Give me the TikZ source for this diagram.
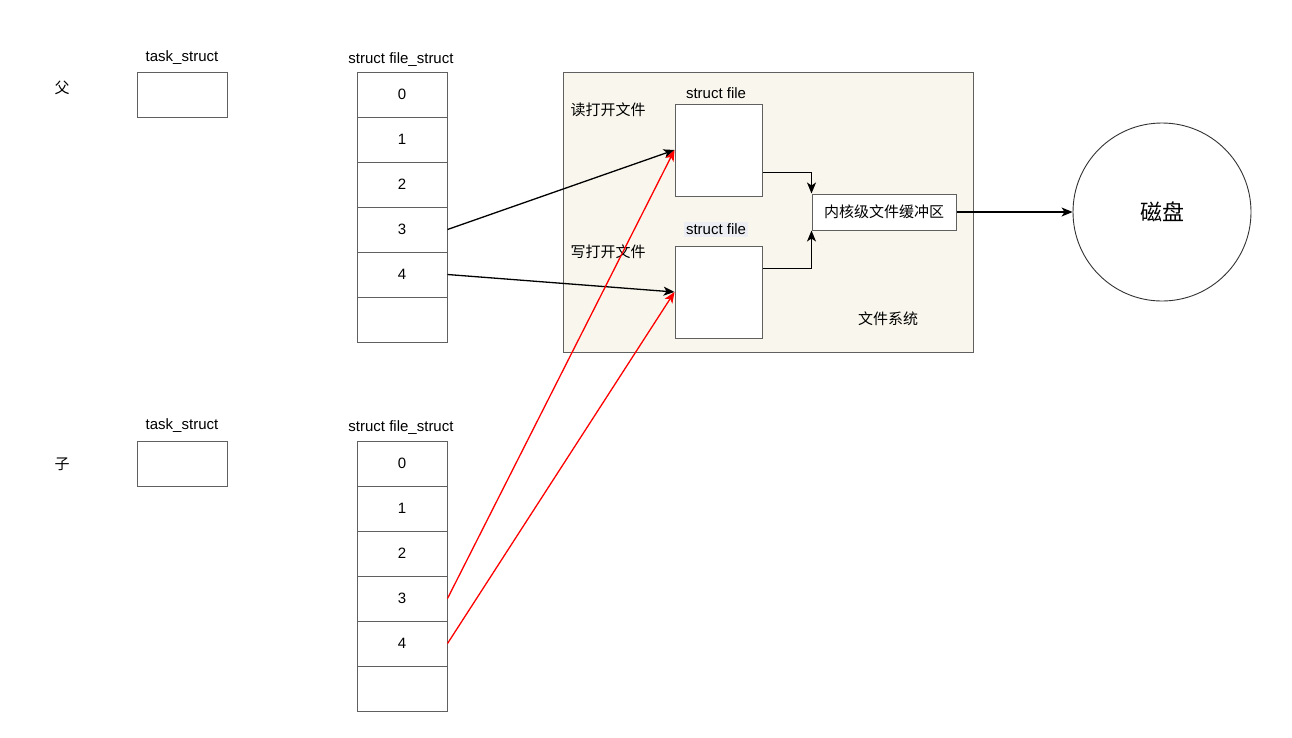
\documentclass[tikz,border=0pt]{standalone}
\usepackage{fontspec}
\setmainfont{Liberation Sans}
\newfontfamily\cjk{Noto Sans CJK SC}
\usetikzlibrary{arrows.meta,calc}
\definecolor{fsfill}{HTML}{F9F7ED}
\definecolor{boxline}{HTML}{606060}
\definecolor{hl}{HTML}{ECEEF3}
\begin{document}
\begin{tikzpicture}[x=1pt,y=-1pt,
  every node/.style={font=\fontsize{15}{18}\selectfont, inner sep=0pt},
  box/.style={draw=boxline, line width=1pt, fill=white},
  cell/.style={box, minimum width=90pt, minimum height=45pt},
  cjklbl/.style={font=\cjk\fontsize{15}{18}\selectfont},
  arr/.style={-{Stealth[length=11pt,width=9pt,inset=3pt]}, line width=1.3pt},
  redarr/.style={arr, draw=red}
]
\useasboundingbox (0,0) rectangle (1292,737);

% file system container
\node[draw=boxline, line width=1pt, fill=fsfill, minimum width=410pt, minimum height=280pt, anchor=north west] (fs) at (563,72) {};
\node[cjklbl] (fslbl) at (888,319) {文件系统};
\node[cjklbl] (rd) at (608,110) {读打开文件};
\node[cjklbl] (wr) at (608,252) {写打开文件};

% struct file boxes
\node (sf1lbl) at (716,93) {struct file};
\node[box, minimum width=87pt, minimum height=92pt] (sf1) at (718.5,150) {};
\node[fill=hl, inner xsep=2pt, inner ysep=2pt] (sf2lbl) at (716,229.5) {struct file};
\node[box, minimum width=87pt, minimum height=92pt] (sf2) at (718.5,292) {};

% kernel buffer
\node[box, minimum width=144pt, minimum height=36pt, cjklbl] (buf) at (884,212) {内核级文件缓冲区};

% disk
\node[circle, draw=black!80, line width=0.9pt, minimum size=178pt, font=\cjk\fontsize{22}{26}\selectfont] (disk) at (1162,212) {磁盘};

% parent
\node[cjklbl] (fa) at (62,88) {父};
\node (pts) at (182,58) {task\_struct};
\node[box, minimum width=90pt, minimum height=45pt] (ptask) at (182,94.5) {};
\node (pfs) at (401,60) {struct file\_struct};
\foreach \i/\t in {0/0,1/1,2/2,3/3,4/4,5/{}} {
  \node[cell] (p\i) at (402,{94.5+45*\i}) {\t};
}

% child
\node[cjklbl] (ch) at (62,464) {子};
\node (cts) at (182,426) {task\_struct};
\node[box, minimum width=90pt, minimum height=45pt] (ctask) at (182,463.5) {};
\node (cfs) at (401,428) {struct file\_struct};
\foreach \i/\t in {0/0,1/1,2/2,3/3,4/4,5/{}} {
  \node[cell] (c\i) at (402,{463.5+45*\i}) {\t};
}

% connectors
\draw[arr] (p3.east) -- (sf1.west);
\draw[arr] (p4.east) -- (sf2.west);
\draw[redarr] (c3.east) -- (sf1.west);
\draw[redarr] (c4.east) -- (sf2.west);
\coordinate (sf1out) at ($(sf1.south east)!0.26!(sf1.north east)$);
\coordinate (sf2out) at ($(sf2.north east)!0.25!(sf2.south east)$);
\draw[arr] (sf1out) -| (buf.north west);
\draw[arr] (sf2out) -| (buf.south west);
\draw[arr] (buf.east) -- (disk.west);
\end{tikzpicture}
\end{document}
